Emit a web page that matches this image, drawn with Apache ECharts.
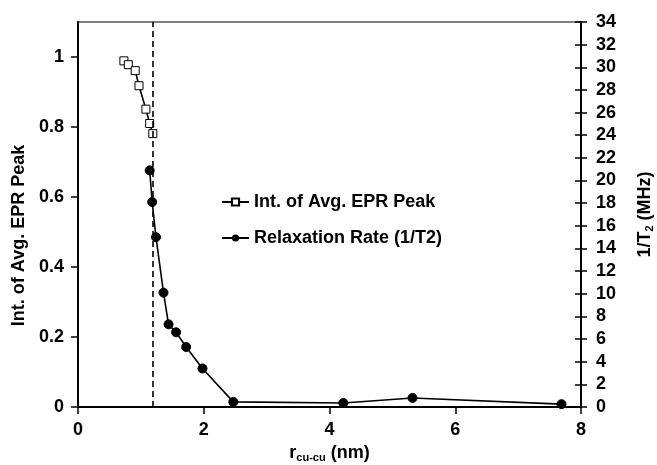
<!DOCTYPE html>
<html>
<head>
<meta charset="utf-8">
<script src="https://cdn.jsdelivr.net/npm/echarts@6/dist/echarts.min.js"></script>
<style>html,body{margin:0;padding:0;background:#fff}#c{width:657px;height:465px}</style>
</head>
<body>
<div id="c"></div>
<script>
// Data
const eprX = [0.73, 0.80, 0.91, 0.97, 1.08, 1.14, 1.19];
const eprY = [0.989, 0.978, 0.961, 0.918, 0.851, 0.810, 0.781];
const relX = [1.14, 1.18, 1.24, 1.36, 1.44, 1.56, 1.72, 1.98, 2.47, 4.22, 5.32, 7.69];
const relY = [20.9, 18.1, 15.0, 10.1, 7.3, 6.6, 5.3, 3.4, 0.45, 0.35, 0.8, 0.25];
const dashX = 1.19;
const leftTicks = [0, 0.2, 0.4, 0.6, 0.8, 1];
const seriesNames = ['Int. of Avg. EPR Peak', 'Relaxation Rate (1/T2)'];

const FONT = "'Liberation Sans', Arial, sans-serif";
const chart = echarts.init(document.getElementById('c'), null, {renderer: 'canvas'});
const labelStyle = {color: '#000', fontFamily: FONT, fontWeight: 'bold', fontSize: 18};
const tickStyle = {color: '#000', width: 1.5};

chart.setOption({
  animation: false,
  backgroundColor: '#fff',
  grid: {left: 78, right: 76, top: 22, bottom: 58, show: true, borderColor: '#000', borderWidth: 1.2,
         containLabel: false, outerBoundsMode: 'none'},
  legend: {
    orient: 'vertical', left: 216, top: 188, itemGap: 18, itemWidth: 27, itemHeight: 9,
    textStyle: {color: '#000', fontFamily: FONT, fontWeight: 'bold', fontSize: 18},
    data: seriesNames
  },
  xAxis: {
    type: 'value', min: 0, max: 8, interval: 2,
    axisLine: {lineStyle: {color: '#000', width: 2}},
    axisTick: {show: true, length: 7, lineStyle: tickStyle},
    axisLabel: Object.assign({margin: 14}, labelStyle),
    splitLine: {show: false},
    name: '{a|r}{s|cu-cu}{a| (nm)}', nameLocation: 'middle', nameGap: 37,
    nameTextStyle: {rich: {
      a: {fontFamily: FONT, fontWeight: 'bold', fontSize: 18, color: '#000'},
      s: {fontFamily: FONT, fontWeight: 'bold', fontSize: 11, color: '#000', verticalAlign: 'bottom', padding: [8, 0, 0, 0]}
    }}
  },
  yAxis: [{
    type: 'value', min: 0, max: 1.1, position: 'left',
    axisLine: {show: true, lineStyle: {color: '#000', width: 2}},
    axisTick: {show: true, length: 7, customValues: leftTicks, lineStyle: tickStyle},
    axisLabel: Object.assign({margin: 14, customValues: leftTicks}, labelStyle),
    splitLine: {show: false},
    name: 'Int. of Avg. EPR Peak', nameLocation: 'middle', nameGap: 48,
    nameTextStyle: {fontFamily: FONT, fontWeight: 'bold', fontSize: 18, color: '#000', padding: [0, 42, 0, 0]}
  }, {
    type: 'value', min: 0, max: 34, interval: 2, position: 'right',
    axisLine: {show: true, lineStyle: {color: '#000', width: 2}},
    axisTick: {show: true, length: 6, lineStyle: tickStyle},
    axisLabel: Object.assign({margin: 15}, labelStyle),
    splitLine: {show: false},
    name: '{a|1/T}{s|2}{a| (MHz)}', nameLocation: 'middle', nameGap: 55,
    nameTextStyle: {rich: {
      a: {fontFamily: FONT, fontWeight: 'bold', fontSize: 18, color: '#000'},
      s: {fontFamily: FONT, fontWeight: 'bold', fontSize: 11, color: '#000', verticalAlign: 'bottom', padding: [8, 0, 0, 0]}
    }}
  }, {
    type: 'value', min: 0, max: 34, interval: 2, position: 'right',
    axisLine: {show: false},
    axisTick: {show: true, inside: true, length: 6, lineStyle: tickStyle},
    axisLabel: {show: false},
    splitLine: {show: false}
  }],
  series: [{
    name: seriesNames[0], type: 'line', yAxisIndex: 0,
    data: eprX.map((x, i) => [x, eprY[i]]),
    symbol: 'rect', symbolSize: 8,
    lineStyle: {color: '#000', width: 1.6},
    itemStyle: {color: '#fff', borderColor: '#000', borderWidth: 1},
    z: 3,
    markLine: {
      silent: true, symbol: 'none', label: {show: false},
      lineStyle: {color: '#000', type: [6, 4], width: 1.6},
      data: [{xAxis: dashX}]
    }
  }, {
    name: seriesNames[1], type: 'line', yAxisIndex: 1,
    data: relX.map((x, i) => [x, relY[i]]),
    symbol: 'circle', symbolSize: 9,
    lineStyle: {color: '#000', width: 1.6},
    itemStyle: {color: '#000', borderColor: '#000'},
    z: 4
  }]
});
</script>
</body>
</html>
